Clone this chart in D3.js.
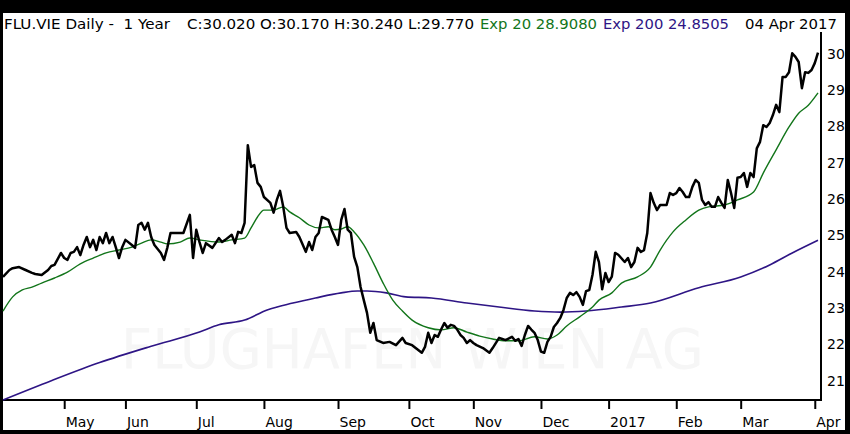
<!DOCTYPE html>
<html>
<head>
<meta charset="utf-8">
<script src="https://cdn.jsdelivr.net/npm/d3@7"></script>
<style>
  body { margin: 0; background: #000; }
  svg { display: block; }
  .hdr { white-space: pre; }
</style>
</head>
<body>
<svg id="chart" width="850" height="434"></svg>
<script>
// daily closes, [session, price] - session 0 = first day of the 1 year window
const closes = [
  [0,23.84],[2,24.03],[3,24.08],[5,24.11],[7,24.03],[9,23.95],[10,23.92],[12,23.89],
  [14,24.03],[15,24.14],[16,24.17],[18,24.50],[19,24.36],[20,24.31],[21,24.50],[22,24.53],
  [23,24.66],[24,24.44],[25,24.72],[26,24.94],[27,24.66],[28,24.86],[29,24.58],[30,24.94],
  [31,24.77],[32,25.05],[33,24.77],[34,24.94],[35,24.66],[36,24.36],[37,24.66],[38,24.86],
  [40,24.72],[41,24.64],[42,25.27],[43,25.33],[44,25.14],[45,25.33],[46,24.94],[47,24.72],
  [49,24.50],[50,24.31],[51,24.64],[52,25.05],[54,25.05],[56,25.05],[58,25.55],[59,24.36],
  [60,25.14],[61,24.80],[62,24.50],[63,24.77],[65,24.64],[67,24.91],[68,24.80],[69,24.86],
  [71,25.00],[72,24.77],[73,25.08],[74,25.05],[75,25.33],[76,27.47],[77,26.87],[78,26.92],
  [79,26.43],[80,26.32],[81,26.04],[83,25.88],[84,25.61],[85,25.96],[86,26.21],[87,25.77],
  [88,25.19],[89,25.05],[91,25.08],[92,24.94],[94,24.53],[95,24.80],[96,24.58],[97,24.94],
  [98,25.05],[99,25.49],[101,25.41],[102,25.14],[103,24.94],[104,24.72],[105,25.41],[106,25.71],
  [107,25.14],[108,25.05],[109,24.39],[110,24.11],[111,23.56],[112,23.20],[113,22.85],[114,22.30],
  [115,22.57],[116,22.10],[118,22.02],[120,22.05],[122,21.96],[124,22.16],[125,22.02],[127,21.96],
  [129,21.82],[130,21.75],[131,21.91],[132,22.30],[133,22.02],[134,22.24],[135,22.19],[136,22.39],
  [137,22.57],[138,22.44],[139,22.52],[140,22.49],[141,22.39],[142,22.24],[143,22.16],[144,22.02],
  [145,22.10],[146,22.02],[147,21.96],[149,21.88],[151,21.75],[152,21.88],[154,22.16],[155,22.13],
  [156,22.10],[158,22.19],[159,22.08],[160,22.13],[161,21.94],[162,22.24],[163,22.49],[164,22.39],
  [165,22.30],[166,22.10],[167,21.78],[168,21.75],[169,22.05],[170,22.19],[171,22.46],[172,22.57],
  [173,22.71],[174,22.93],[175,23.26],[176,23.40],[177,23.34],[178,23.42],[179,23.29],[180,23.07],
  [181,23.45],[182,23.48],[183,23.90],[184,24.53],[185,24.25],[186,23.50],[187,23.95],[188,23.70],
  [189,23.85],[190,24.50],[191,24.45],[193,24.25],[194,24.36],[195,24.11],[196,24.25],[197,24.64],
  [198,24.53],[199,24.58],[200,25.05],[201,26.15],[202,25.88],[203,25.68],[204,25.82],[206,25.82],
  [207,26.15],[208,26.10],[209,26.15],[210,26.29],[211,26.18],[212,26.04],[213,26.04],[214,26.32],
  [215,26.51],[216,26.43],[217,25.96],[218,25.82],[219,25.90],[220,25.77],[221,25.77],[222,26.04],
  [223,25.88],[224,25.74],[225,26.51],[226,26.15],[227,25.74],[228,26.57],[229,26.59],[230,26.70],
  [231,26.32],[232,26.70],[233,26.59],[234,27.38],[235,27.56],[236,28.02],[237,27.97],[238,28.08],
  [239,28.30],[240,28.58],[241,28.38],[242,29.35],[243,29.35],[244,29.48],[245,30.00],[246,29.90],
  [247,29.76],[248,29.04],[249,29.48],[250,29.46],[251,29.54],[252,29.73],[253,30.02]
];

const ema20 = [
  [0,22.90],[3,23.29],[6,23.48],[9,23.56],[12,23.67],[16,23.81],[20,23.97],[24,24.20],
  [28,24.36],[32,24.50],[36,24.58],[40,24.66],[43,24.77],[46,24.86],[49,24.80],[51,24.75],
  [55,24.80],[58,24.91],[61,24.86],[67,24.80],[71,24.86],[75,24.91],[77,25.19],[79,25.49],
  [81,25.68],[84,25.68],[87,25.77],[89,25.63],[92,25.47],[95,25.27],[98,25.19],[101,25.22],
  [103,25.14],[105,25.16],[107,25.22],[109,25.08],[112,24.72],[115,24.22],[118,23.67],[121,23.20],
  [124,22.90],[127,22.65],[132,22.44],[136,22.38],[140,22.44],[144,22.32],[148,22.21],[152,22.13],
  [156,22.08],[160,22.08],[165,22.19],[169,22.13],[172,22.24],[175,22.49],[179,22.74],[183,23.01],
  [185,23.20],[189,23.40],[192,23.67],[197,23.84],[201,24.11],[204,24.58],[208,25.08],[212,25.41],
  [216,25.68],[219,25.77],[224,25.82],[228,25.96],[233,26.18],[236,26.70],[240,27.34],[244,27.97],
  [247,28.35],[250,28.57],[253,28.91]
];

const ema200 = [
  [0,20.45],[15,20.98],[30,21.48],[46,21.93],[61,22.32],[67,22.52],[75,22.65],[82,22.93],
  [90,23.12],[97,23.26],[105,23.40],[110,23.45],[113,23.45],[119,23.40],[125,23.29],[133,23.26],
  [144,23.12],[154,23.01],[165,22.90],[173,22.87],[181,22.90],[192,23.01],[201,23.12],[216,23.54],
  [229,23.84],[238,24.17],[245,24.50],[253,24.85]
];

// first session of each month
const monthTicks = [
  [19,'May'],[38,'Jun'],[60,'Jul'],[81,'Aug'],[104,'Sep'],[126,'Oct'],
  [146,'Nov'],[167,'Dec'],[188,'2017'],[209,'Feb'],[229,'Mar'],[252,'Apr']
];
const priceTicks = [21, 22, 23, 24, 25, 26, 27, 28, 29, 30];

const header = [
  { text: 'FLU.VIE Daily -  1 Year', x: 4, w: 166, color: '#000' },
  { text: 'C:30.020 O:30.170 H:30.240 L:29.770', x: 187, w: 287, color: '#000' },
  { text: 'Exp 20 28.9080', x: 480, w: 117, color: '#12751a' },
  { text: 'Exp 200 24.8505', x: 603, w: 126, color: '#2e1585' },
  { text: '04 Apr 2017', x: 745, w: 92, color: '#000' }
];

const svg = d3.select('#chart');
const font = 'DejaVu Sans, Verdana, sans-serif';

// white card on black frame
svg.append('rect')
  .attr('x', 3).attr('y', 13)
  .attr('width', 842).attr('height', 417)
  .attr('fill', '#fff');

const plotLeft = 3, plotRight = 821, plotTop = 32, plotBottom = 400;

const x = d3.scaleLinear().domain([0, 253]).range([plotLeft, 818]);
const y = d3.scaleLinear().domain([30, 21]).range([53.3, 380]);

// watermark
svg.append('text')
  .attr('x', 121).attr('y', 368)
  .attr('textLength', 583)
  .attr('lengthAdjust', 'spacingAndGlyphs')
  .attr('font-family', font)
  .attr('font-size', 56)
  .attr('fill', '#f6f6f6')
  .text('FLUGHAFEN WIEN AG');

// header line
svg.selectAll('.hdr')
  .data(header)
  .enter().append('text')
  .attr('class', 'hdr')
  .attr('x', d => d.x)
  .attr('y', 29)
  .attr('textLength', d => d.w)
  .attr('lengthAdjust', 'spacingAndGlyphs')
  .attr('font-family', font)
  .attr('font-size', 14)
  .attr('fill', d => d.color)
  .text(d => d.text);

// axes
const xAxis = d3.axisBottom(x)
  .tickValues(monthTicks.map(d => d[0]))
  .tickFormat((d, i) => monthTicks[i][1])
  .tickSize(9)
  .tickSizeOuter(0);

const gx = svg.append('g')
  .attr('transform', `translate(0,${plotBottom})`)
  .call(xAxis);
gx.select('.domain').remove();
gx.selectAll('.tick line').attr('stroke', '#000').attr('stroke-width', 2);
gx.selectAll('.tick text')
  .attr('text-anchor', 'start')
  .attr('x', 1)
  .attr('y', 27)
  .attr('dy', null)
  .attr('font-family', font)
  .attr('font-size', 14)
  .attr('fill', '#000');

const yAxis = d3.axisRight(y)
  .tickValues(priceTicks)
  .tickFormat(d3.format('d'))
  .tickSize(0);

const gy = svg.append('g')
  .attr('transform', `translate(${plotRight},0)`)
  .call(yAxis);
gy.select('.domain').remove();
gy.selectAll('.tick text')
  .attr('x', 6)
  .attr('dy', '0.36em')
  .attr('font-family', font)
  .attr('font-size', 14)
  .attr('fill', '#000');

// frame lines
svg.append('line')
  .attr('x1', plotLeft).attr('x2', plotRight + 1)
  .attr('y1', plotBottom).attr('y2', plotBottom)
  .attr('stroke', '#000').attr('stroke-width', 2);
svg.append('line')
  .attr('x1', plotRight).attr('x2', plotRight)
  .attr('y1', plotTop).attr('y2', plotBottom)
  .attr('stroke', '#000').attr('stroke-width', 2);

// series
const line = d3.line()
  .x(d => x(d[0]))
  .y(d => y(d[1]));

const smooth = d3.line()
  .x(d => x(d[0]))
  .y(d => y(d[1]))
  .curve(d3.curveMonotoneX);

svg.append('path')
  .datum(ema200)
  .attr('d', smooth)
  .attr('fill', 'none')
  .attr('stroke', '#2e1585')
  .attr('stroke-width', 1.6);

svg.append('path')
  .datum(ema20)
  .attr('d', smooth)
  .attr('fill', 'none')
  .attr('stroke', '#12751a')
  .attr('stroke-width', 1.4);

svg.append('path')
  .datum(closes)
  .attr('d', line)
  .attr('fill', 'none')
  .attr('stroke', '#000')
  .attr('stroke-width', 2.5)
  .attr('stroke-linejoin', 'round');
</script>
</body>
</html>
